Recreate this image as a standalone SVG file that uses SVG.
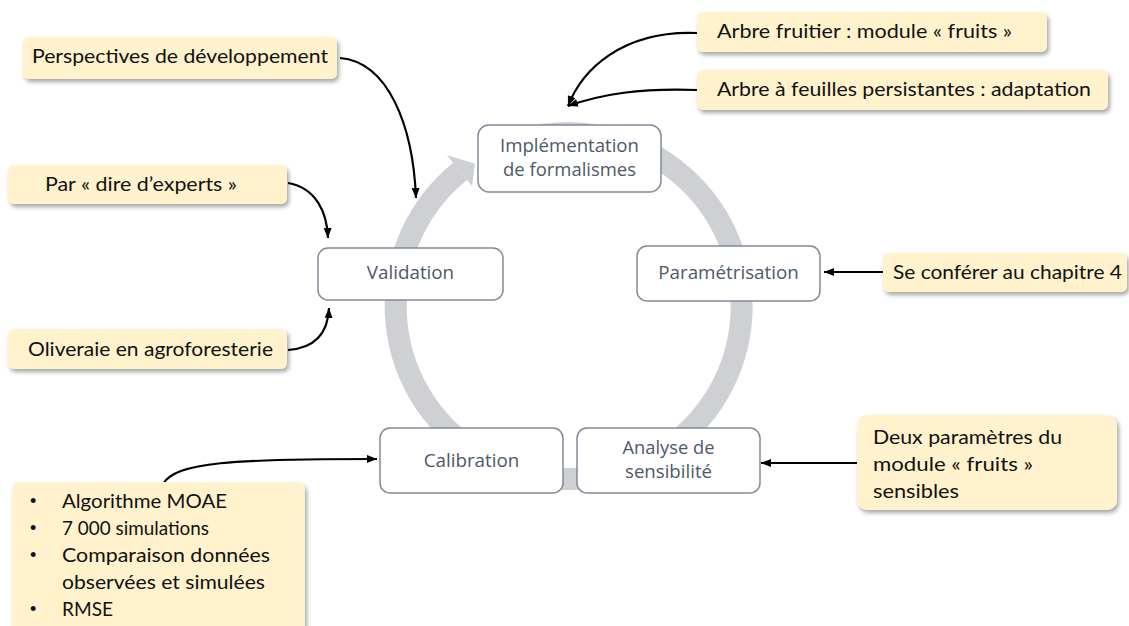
<svg xmlns="http://www.w3.org/2000/svg" width="1129" height="626" viewBox="0 0 1129 626">
  <style>
    .step { fill: #ffffff; stroke: #808a98; stroke-width: 1.5; }
    .steptxt { font-family: "Open Sans", "Noto Sans", sans-serif; font-size: 18.8px; fill: #4d5869; text-anchor: middle; }
    .steptxt2 { font-family: "Open Sans", "Noto Sans", sans-serif; font-size: 17.6px; fill: #4d5869; text-anchor: middle; }
    .note { fill: #fff2cc; filter: url(#shadow); }
    .notetxt { font-family: Lato, "Open Sans", sans-serif; font-size: 20px; fill: #111111; }
    .bullet { font-family: "Liberation Sans", Arial, sans-serif; font-size: 18px; fill: #111111; }
    .conn { fill: none; stroke: #000000; stroke-width: 2.2; marker-end: url(#arrow); }
    .ring { fill: none; stroke: #cfd0d3; stroke-width: 22; }
  </style>
  <defs>
    <marker id="arrow" markerUnits="userSpaceOnUse" markerWidth="12" markerHeight="10" refX="10" refY="4" orient="auto">
      <path d="M0,0 L10,4 L0,8 Z" fill="#000000"/>
    </marker>
    <filter id="shadow" x="-10%" y="-20%" width="125%" height="150%">
      <feDropShadow dx="2" dy="3" stdDeviation="2" flood-color="#000000" flood-opacity="0.35"/>
    </filter>
  </defs>
  <rect width="1129" height="626" fill="#ffffff"/>

  <!-- circular cycle arrow -->
  <g id="cycle">
    <path class="ring" d="M524.2,138.9 A173,173 0 1 1 460.1,171.4"/>
    <polygon points="446.9,155.2 474.9,163.5 472.1,186.3" fill="#cfd0d3"/>
  </g>

  <!-- connectors -->
  <g id="connectors">
    <path class="conn" d="M340,58 C388,62 413,125 416,198"/>
    <path class="conn" d="M288,183 C316,188 327,212 328,238"/>
    <path class="conn" d="M288,350 C316,348 328,332 329,308"/>
    <path class="conn" d="M697,33 C622,30 582,70 568,106"/>
    <path class="conn" d="M697,90 C640,88 602,94 568,106"/>
    <path class="conn" d="M883,272 L824,272"/>
    <path class="conn" d="M857,463 L761,463"/>
    <path class="conn" d="M163,484 C176,462 232,459 377,459"/>
  </g>

  <!-- step nodes -->
  <g id="implementation">
    <rect class="step" x="478" y="125" width="183" height="67" rx="11"/>
    <text class="steptxt2" x="569.5" y="152" textLength="139" lengthAdjust="spacingAndGlyphs">Implémentation</text>
    <text class="steptxt2" x="569.5" y="176" textLength="133" lengthAdjust="spacingAndGlyphs">de formalismes</text>
  </g>
  <g id="parametrisation">
    <rect class="step" x="637" y="246" width="183" height="55" rx="10"/>
    <text class="steptxt" x="728.5" y="279">Paramétrisation</text>
  </g>
  <g id="analyse">
    <rect class="step" x="577" y="428" width="183" height="65" rx="10"/>
    <text class="steptxt2" x="668.5" y="454" textLength="92" lengthAdjust="spacingAndGlyphs">Analyse de</text>
    <text class="steptxt2" x="668.5" y="478" textLength="87" lengthAdjust="spacingAndGlyphs">sensibilité</text>
  </g>
  <g id="calibration">
    <rect class="step" x="380" y="428" width="183" height="65" rx="10"/>
    <text class="steptxt" x="471.5" y="467">Calibration</text>
  </g>
  <g id="validation">
    <rect class="step" x="318" y="248" width="185" height="52" rx="10"/>
    <text class="steptxt" x="410.5" y="279">Validation</text>
  </g>

  <!-- note nodes -->
  <g id="note-perspectives">
    <rect class="note" x="23" y="37" width="314" height="42" rx="6"/>
    <text class="notetxt" x="32" y="63" textLength="296" lengthAdjust="spacingAndGlyphs">Perspectives de développement</text>
  </g>
  <g id="note-experts">
    <rect class="note" x="8" y="165" width="279" height="39" rx="6"/>
    <text class="notetxt" x="45" y="191" textLength="192" lengthAdjust="spacingAndGlyphs">Par « dire d’experts »</text>
  </g>
  <g id="note-oliveraie">
    <rect class="note" x="8" y="329" width="279" height="40" rx="6"/>
    <text class="notetxt" x="28" y="356" textLength="245" lengthAdjust="spacingAndGlyphs">Oliveraie en agroforesterie</text>
  </g>
  <g id="note-fruitier">
    <rect class="note" x="697" y="12" width="350" height="40" rx="6"/>
    <text class="notetxt" x="717" y="38" textLength="295" lengthAdjust="spacingAndGlyphs">Arbre fruitier : module « fruits »</text>
  </g>
  <g id="note-persistantes">
    <rect class="note" x="697" y="70" width="411" height="40" rx="6"/>
    <text class="notetxt" x="717" y="96" textLength="374" lengthAdjust="spacingAndGlyphs">Arbre à feuilles persistantes : adaptation</text>
  </g>
  <g id="note-chapitre">
    <rect class="note" x="883" y="253" width="244" height="39" rx="6"/>
    <text class="notetxt" x="893" y="279" textLength="229" lengthAdjust="spacingAndGlyphs">Se conférer au chapitre 4</text>
  </g>
  <g id="note-parametres">
    <rect class="note" x="857" y="415" width="260" height="95" rx="10"/>
    <text class="notetxt" x="873" y="444" textLength="189" lengthAdjust="spacingAndGlyphs">Deux paramètres du</text>
    <text class="notetxt" x="873" y="471" textLength="160" lengthAdjust="spacingAndGlyphs">module « fruits »</text>
    <text class="notetxt" x="873" y="498" textLength="86" lengthAdjust="spacingAndGlyphs">sensibles</text>
  </g>
  <g id="note-calibration">
    <rect class="note" x="12" y="482" width="293" height="152" rx="8"/>
    <g class="bullet">
      <text x="30" y="507">•</text>
      <text x="30" y="534">•</text>
      <text x="30" y="561">•</text>
      <text x="30" y="615">•</text>
    </g>
    <g class="notetxt">
      <text x="62" y="508" textLength="165" lengthAdjust="spacingAndGlyphs">Algorithme MOAE</text>
      <text x="62" y="535" textLength="147" lengthAdjust="spacingAndGlyphs">7 000 simulations</text>
      <text x="62" y="562" textLength="208" lengthAdjust="spacingAndGlyphs">Comparaison données</text>
      <text x="62" y="589" textLength="203" lengthAdjust="spacingAndGlyphs">observées et simulées</text>
      <text x="62" y="616" textLength="51" lengthAdjust="spacingAndGlyphs">RMSE</text>
    </g>
  </g>
</svg>
